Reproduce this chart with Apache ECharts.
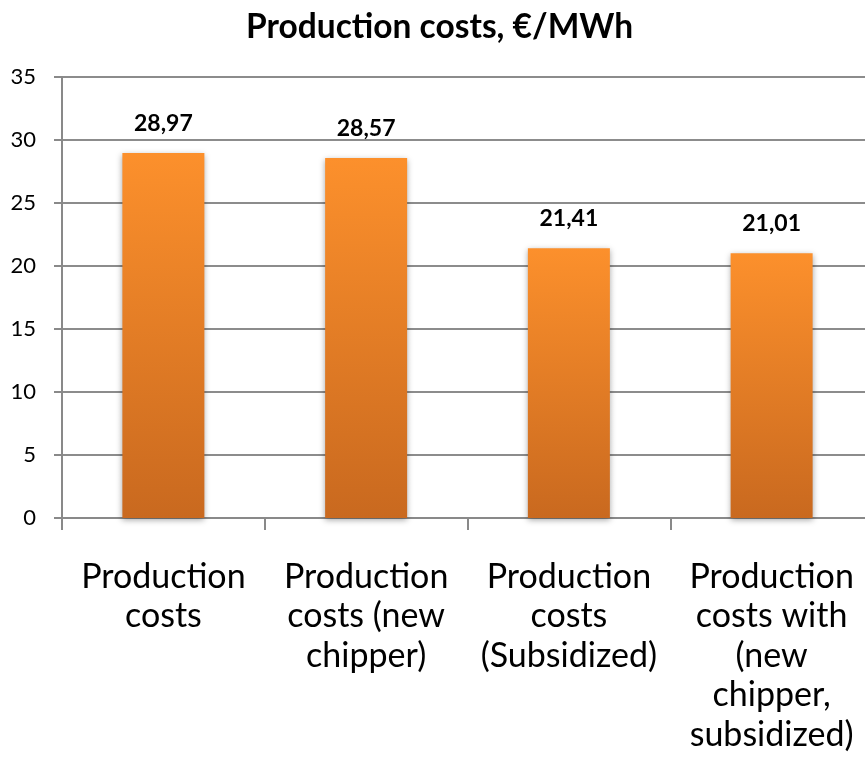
<!DOCTYPE html>
<html>
<head>
<meta charset="utf-8">
<script src="https://cdn.jsdelivr.net/npm/echarts@6/dist/echarts.min.js"></script>
<style>html,body{margin:0;padding:0;background:#fff}#c{width:865px;height:777px}</style>
</head>
<body>
<div id="c"></div>
<script>
var categories = [
  "Production\ncosts",
  "Production\ncosts (new\nchipper)",
  "Production\ncosts\n(Subsidized)",
  "Production\ncosts with\n(new\nchipper,\nsubsidized)"
];
var values = [28.97, 28.57, 21.41, 21.01];
var titleText = "Production costs, \u20ac/MWh";

var FONT = "Lato";
var chart = echarts.init(document.getElementById('c'));
chart.setOption({
  animation: false,
  backgroundColor: '#ffffff',
  title: {
    text: titleText,
    left: 241,
    top: 5,
    textStyle: {fontFamily: FONT, fontWeight: 'bold', fontSize: 33.5, color: '#000'}
  },
  grid: {left: 62, right: -8, top: 77, bottom: 259, containLabel: false, outerBoundsMode: 'none'},
  xAxis: {
    type: 'category',
    data: categories,
    axisLine: {show: true, lineStyle: {color: '#898989', width: 2}},
    axisTick: {show: true, length: 12, lineStyle: {color: '#898989', width: 2}},
    axisLabel: {
      interval: 0,
      fontFamily: FONT,
      fontSize: 34,
      lineHeight: 39.5,
      color: '#000',
      margin: 39,
      align: 'center'
    },
    splitLine: {show: false}
  },
  yAxis: {
    type: 'value',
    min: 0, max: 35, interval: 5,
    axisLine: {show: true, lineStyle: {color: '#898989', width: 2}},
    axisTick: {show: true, length: 8, lineStyle: {color: '#898989', width: 2}},
    axisLabel: {fontFamily: FONT, fontSize: 22, color: '#000', margin: 26},
    splitLine: {show: true, lineStyle: {color: '#8c8c8c', width: 2}}
  },
  series: [{
    type: 'bar',
    data: values,
    barWidth: 82,
    itemStyle: {
      color: new echarts.graphic.LinearGradient(0, 0, 0, 1, [
        {offset: 0, color: '#FC902C'},
        {offset: 1, color: '#C9691F'}
      ]),
      shadowBlur: 6,
      shadowColor: 'rgba(0,0,0,0.35)',
      shadowOffsetY: 2
    },
    label: {
      show: true,
      position: 'top',
      distance: 18,
      fontFamily: FONT,
      fontWeight: 'bold',
      fontSize: 23,
      color: '#000',
      formatter: function (p) { return p.value.toFixed(2).replace('.', ','); }
    }
  }]
});
</script>
</body>
</html>
